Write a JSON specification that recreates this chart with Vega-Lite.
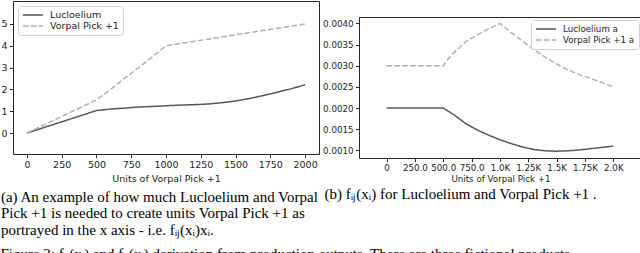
{
  "$schema": "https://vega.github.io/schema/vega-lite/v6.json",
  "padding": 0,
  "background": "white",
  "spacing": 2,
  "title": {
    "text": "Figure 2: fᵢⱼ(xᵢ) and fᵢⱼ(xᵢ) derivation from production outputs. There are three fictional products",
    "orient": "bottom", "anchor": "start", "frame": "bounds",
    "font": "Liberation Serif", "fontSize": 15, "fontWeight": "normal", "color": "black", "offset": 9
  },
  "datasets": {
    "a": [
      {"x": 0, "y": 0, "s": "Lucloelium"},
      {"x": 500, "y": 1.03, "s": "Lucloelium"},
      {"x": 600, "y": 1.10, "s": "Lucloelium"},
      {"x": 700, "y": 1.14, "s": "Lucloelium"},
      {"x": 800, "y": 1.19, "s": "Lucloelium"},
      {"x": 900, "y": 1.22, "s": "Lucloelium"},
      {"x": 1000, "y": 1.25, "s": "Lucloelium"},
      {"x": 1100, "y": 1.28, "s": "Lucloelium"},
      {"x": 1200, "y": 1.30, "s": "Lucloelium"},
      {"x": 1300, "y": 1.33, "s": "Lucloelium"},
      {"x": 1400, "y": 1.39, "s": "Lucloelium"},
      {"x": 1500, "y": 1.47, "s": "Lucloelium"},
      {"x": 1600, "y": 1.58, "s": "Lucloelium"},
      {"x": 1700, "y": 1.72, "s": "Lucloelium"},
      {"x": 1800, "y": 1.87, "s": "Lucloelium"},
      {"x": 1900, "y": 2.03, "s": "Lucloelium"},
      {"x": 2000, "y": 2.21, "s": "Lucloelium"},
      {"x": 0, "y": 0, "s": "Vorpal Pick +1"},
      {"x": 500, "y": 1.52, "s": "Vorpal Pick +1"},
      {"x": 600, "y": 1.99, "s": "Vorpal Pick +1"},
      {"x": 700, "y": 2.50, "s": "Vorpal Pick +1"},
      {"x": 800, "y": 2.98, "s": "Vorpal Pick +1"},
      {"x": 900, "y": 3.48, "s": "Vorpal Pick +1"},
      {"x": 1000, "y": 4.0, "s": "Vorpal Pick +1"},
      {"x": 1500, "y": 4.5, "s": "Vorpal Pick +1"},
      {"x": 2000, "y": 5.0, "s": "Vorpal Pick +1"}
    ],
    "b": [
      {"x": 0, "y": 0.002, "s": "Lucloelium a"},
      {"x": 500, "y": 0.002, "s": "Lucloelium a"},
      {"x": 600, "y": 0.00183, "s": "Lucloelium a"},
      {"x": 700, "y": 0.00163, "s": "Lucloelium a"},
      {"x": 800, "y": 0.00148, "s": "Lucloelium a"},
      {"x": 900, "y": 0.00136, "s": "Lucloelium a"},
      {"x": 1000, "y": 0.00125, "s": "Lucloelium a"},
      {"x": 1100, "y": 0.00116, "s": "Lucloelium a"},
      {"x": 1200, "y": 0.00108, "s": "Lucloelium a"},
      {"x": 1300, "y": 0.00102, "s": "Lucloelium a"},
      {"x": 1400, "y": 0.00099, "s": "Lucloelium a"},
      {"x": 1500, "y": 0.00098, "s": "Lucloelium a"},
      {"x": 1600, "y": 0.00099, "s": "Lucloelium a"},
      {"x": 1700, "y": 0.00101, "s": "Lucloelium a"},
      {"x": 1800, "y": 0.00104, "s": "Lucloelium a"},
      {"x": 1900, "y": 0.00107, "s": "Lucloelium a"},
      {"x": 2000, "y": 0.0011, "s": "Lucloelium a"},
      {"x": 0, "y": 0.003, "s": "Vorpal Pick +1 a"},
      {"x": 500, "y": 0.003, "s": "Vorpal Pick +1 a"},
      {"x": 550, "y": 0.00318, "s": "Vorpal Pick +1 a"},
      {"x": 600, "y": 0.00332, "s": "Vorpal Pick +1 a"},
      {"x": 700, "y": 0.00357, "s": "Vorpal Pick +1 a"},
      {"x": 800, "y": 0.00373, "s": "Vorpal Pick +1 a"},
      {"x": 900, "y": 0.00387, "s": "Vorpal Pick +1 a"},
      {"x": 1000, "y": 0.004, "s": "Vorpal Pick +1 a"},
      {"x": 1100, "y": 0.00378, "s": "Vorpal Pick +1 a"},
      {"x": 1200, "y": 0.00358, "s": "Vorpal Pick +1 a"},
      {"x": 1300, "y": 0.00338, "s": "Vorpal Pick +1 a"},
      {"x": 1400, "y": 0.0032, "s": "Vorpal Pick +1 a"},
      {"x": 1500, "y": 0.00304, "s": "Vorpal Pick +1 a"},
      {"x": 1600, "y": 0.0029, "s": "Vorpal Pick +1 a"},
      {"x": 1700, "y": 0.00279, "s": "Vorpal Pick +1 a"},
      {"x": 1800, "y": 0.0027, "s": "Vorpal Pick +1 a"},
      {"x": 1900, "y": 0.0026, "s": "Vorpal Pick +1 a"},
      {"x": 2000, "y": 0.0025, "s": "Vorpal Pick +1 a"}
    ],
    "empty": []
  },
  "hconcat": [
    {
      "width": 306,
      "height": 153,
      "data": {"name": "a"},
      "title": {
        "text": ["(a) An example of how much Lucloelium and Vorpal", "Pick +1 is needed to create units Vorpal Pick +1 as", "portrayed in the x axis - i.e. fᵢⱼ(xᵢ)xᵢ."],
        "orient": "bottom", "anchor": "start", "frame": "bounds", "offset": 7
      },
      "mark": {"type": "line", "strokeWidth": 1.5},
      "encoding": {
        "x": {"field": "x", "type": "quantitative", "scale": {"domain": [-100, 2100], "nice": false, "zero": false},
              "axis": {"values": [0, 250, 500, 750, 1000, 1250, 1500, 1750, 2000], "format": "d", "title": "Units of Vorpal Pick +1"}},
        "y": {"field": "y", "type": "quantitative", "scale": {"domain": [-0.96, 6.05], "nice": false, "zero": false},
              "axis": {"values": [0, 1, 2, 3, 4, 5], "format": "d", "title": null, "minExtent": 0}},
        "color": {"field": "s", "type": "nominal",
                  "scale": {"domain": ["Lucloelium", "Vorpal Pick +1"], "range": ["#585858", "#b0b0b0"]},
                  "legend": {"title": null, "orient": "top-left", "offset": 5}},
        "strokeDash": {"field": "s", "type": "nominal",
                  "scale": {"domain": ["Lucloelium", "Vorpal Pick +1"], "range": [[1, 0], [5.5, 2.4]]},
                  "legend": {"title": null, "orient": "top-left", "offset": 5}}
      }
    },
    {
      "spacing": 5,
      "resolve": {
        "scale": {"color": "independent", "strokeDash": "independent"},
        "legend": {"color": "independent", "strokeDash": "independent"}
      },
      "vconcat": [
        {
          "width": 283,
          "height": 10,
          "data": {"name": "empty"},
          "mark": {"type": "point", "opacity": 0},
          "view": {"stroke": null}
        },
        {
          "width": 283,
          "height": 141,
          "data": {"name": "b"},
          "title": {
            "text": "(b) fᵢⱼ(xᵢ) for Lucloelium and Vorpal Pick +1 .",
            "orient": "bottom", "anchor": "start", "frame": "bounds", "offset": 4, "dx": 2
          },
          "mark": {"type": "line", "strokeWidth": 1.5},
          "encoding": {
            "x": {"field": "x", "type": "quantitative", "scale": {"domain": [-243, 2253], "nice": false, "zero": false},
                  "axis": {"values": [0, 250, 500, 750, 1000, 1250, 1500, 1750, 2000],
                           "labelExpr": "datum.value == 0 ? '0' : (datum.value < 1000 ? format(datum.value, '.1f') : ((datum.value % 1000 == 0 ? format(datum.value / 1000, '.1f') : toString(datum.value / 1000)) + 'K'))",
                           "title": "Units of Vorpal Pick +1", "labelFontSize": 8.7, "titleFontSize": 8.7, "titlePadding": 2}},
            "y": {"field": "y", "type": "quantitative", "scale": {"domain": [0.00082, 0.00415], "nice": false, "zero": false},
                  "axis": {"values": [0.001, 0.0015, 0.002, 0.0025, 0.003, 0.0035, 0.004], "format": ".4f", "title": null, "labelFontSize": 8.7, "minExtent": 0}},
            "color": {"field": "s", "type": "nominal",
                      "scale": {"domain": ["Lucloelium a", "Vorpal Pick +1 a"], "range": ["#585858", "#b0b0b0"]},
                      "legend": {"title": null, "orient": "top-right", "offset": 3, "labelFontSize": 8.7}},
            "strokeDash": {"field": "s", "type": "nominal",
                      "scale": {"domain": ["Lucloelium a", "Vorpal Pick +1 a"], "range": [[1, 0], [5.5, 2.4]]},
                      "legend": {"title": null, "orient": "top-right", "offset": 3, "labelFontSize": 8.7}}
          }
        }
      ]
    }
  ],
  "resolve": {
    "scale": {"color": "independent", "strokeDash": "independent"},
    "legend": {"color": "independent", "strokeDash": "independent"}
  },
  "config": {
    "view": {"stroke": "#262626", "strokeWidth": 1},
    "title": {"font": "Liberation Serif", "fontSize": 15, "fontWeight": "normal", "color": "black", "lineHeight": 16.5},
    "axis": {
      "domain": false, "grid": false, "ticks": true, "tickColor": "#262626", "tickSize": 3.5, "tickWidth": 1,
      "labelFont": "DejaVu Sans", "labelFontSize": 9.5, "labelColor": "#222222", "labelPadding": 2,
      "titleFont": "DejaVu Sans", "titleFontSize": 9.5, "titleFontWeight": "normal", "titleColor": "#222222", "titlePadding": 4
    },
    "axisY": {"labelPadding": 2.5},
    "legend": {
      "fillColor": "white", "strokeColor": "#d0d0d0", "cornerRadius": 3, "padding": 4,
      "labelFont": "DejaVu Sans", "labelFontSize": 9.5, "labelColor": "#222222", "labelOffset": 6,
      "symbolType": "stroke", "symbolSize": 400, "symbolStrokeWidth": 1.5, "rowPadding": 1, "clipHeight": 10
    }
  }
}
